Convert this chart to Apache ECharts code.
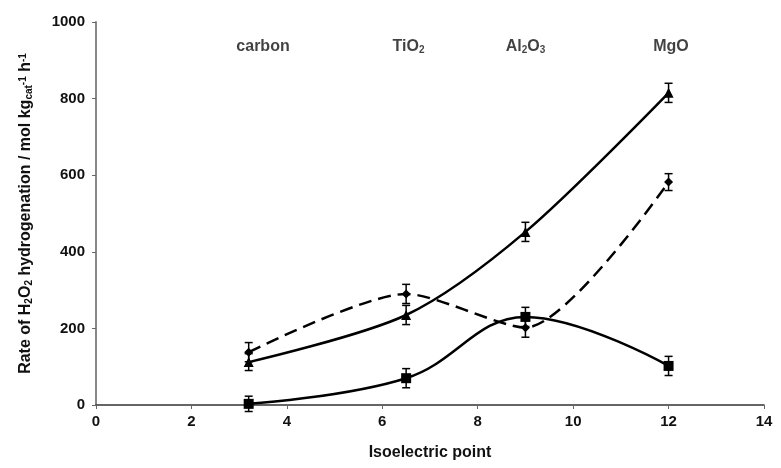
<!DOCTYPE html>
<html>
<head>
<meta charset="utf-8">
<script src="https://cdn.jsdelivr.net/npm/echarts@6/dist/echarts.min.js"></script>
<style>
html,body{margin:0;padding:0;background:#fff;}
#c{width:781px;height:468px;}
</style>
</head>
<body>
<div id="c"></div>
<script>
// ---- data ----
const isoPoint = [3.2, 6.5, 9, 12];
const triangleRate = [112, 235, 452, 815];
const triangleErr = [22, 25, 25, 25];
const diamondRate = [138, 290, 202, 582];
const diamondErr = [25, 25, 25, 22];
const squareRate = [3, 70, 230, 102];
const squareErr = [20, 25, 25, 25];
const supportLabels = ['carbon', 'TiO{sub|2}', 'Al{sub|2}O{sub|3}', 'MgO'];
const supportLabelX = [3.5, 6.55, 9.0, 12.05];
const supportLabelY = 935;
const xTicks = [0, 2, 4, 6, 8, 10, 12, 14];
const yTicks = [0, 200, 400, 600, 800, 1000];

const FONT = 'Liberation Sans, Arial, sans-serif';

function pts(ys) { return isoPoint.map((x, i) => [x, ys[i]]); }
function errData(ys, es) { return isoPoint.map((x, i) => [x, ys[i] - es[i], ys[i] + es[i]]); }

function errorSeries(ys, es) {
  return {
    type: 'custom',
    data: errData(ys, es),
    z: 3,
    silent: true,
    renderItem: function (params, api) {
      const x = api.value(0);
      const lo = api.coord([x, api.value(1)]);
      const hi = api.coord([x, api.value(2)]);
      const w = 4;
      const style = { stroke: '#000', lineWidth: 1.5 };
      return {
        type: 'group',
        children: [
          { type: 'line', shape: { x1: lo[0], y1: lo[1], x2: hi[0], y2: hi[1] }, style: style },
          { type: 'line', shape: { x1: lo[0] - w, y1: lo[1], x2: lo[0] + w, y2: lo[1] }, style: style },
          { type: 'line', shape: { x1: hi[0] - w, y1: hi[1], x2: hi[0] + w, y2: hi[1] }, style: style }
        ]
      };
    }
  };
}

const chart = echarts.init(document.getElementById('c'), null, { renderer: 'canvas' });
chart.setOption({
  animation: false,
  backgroundColor: '#fff',
  grid: { left: 96, right: 17, top: 22, bottom: 63, containLabel: false },
  xAxis: {
    type: 'value', min: xTicks[0], max: xTicks[xTicks.length - 1], interval: 2,
    name: 'Isoelectric point', nameLocation: 'middle', nameGap: 40,
    nameTextStyle: { fontFamily: FONT, fontWeight: 'bold', fontSize: 16, color: '#111' },
    axisLine: { lineStyle: { color: '#333', width: 1.5 } },
    axisTick: { show: true, length: 4, lineStyle: { color: '#666' } },
    axisLabel: { fontFamily: FONT, fontWeight: 'bold', fontSize: 15, color: '#111', margin: 9,
      formatter: v => String(v) },
    splitLine: { show: false }
  },
  yAxis: {
    type: 'value', min: yTicks[0], max: yTicks[yTicks.length - 1], interval: 200,
    name: 'Rate of H{sub|2}O{sub|2} hydrogenation / mol kg{sub|cat}{sup|-1} h{sup|-1}',
    nameLocation: 'middle', nameGap: 62, nameRotate: 90,
    nameTextStyle: {
      fontFamily: FONT, fontWeight: 'bold', fontSize: 16, color: '#111',
      rich: {
        sub: { fontFamily: FONT, fontWeight: 'bold', fontSize: 10, color: '#111', verticalAlign: 'bottom', lineHeight: 8 },
        sup: { fontFamily: FONT, fontWeight: 'bold', fontSize: 10, color: '#111', verticalAlign: 'top', lineHeight: 8 }
      }
    },
    axisLine: { show: true, lineStyle: { color: '#888', width: 2 } },
    axisTick: { show: true, length: 4, lineStyle: { color: '#666' } },
    axisLabel: { fontFamily: FONT, fontWeight: 'bold', fontSize: 15, color: '#111', margin: 11,
      formatter: v => String(v) },
    splitLine: { show: false }
  },
  series: [
    {
      type: 'line', data: pts(triangleRate), smooth: 0.3,
      symbol: 'triangle', symbolSize: 10,
      lineStyle: { color: '#000', width: 2.5 },
      itemStyle: { color: '#000' }, z: 4
    },
    {
      type: 'line', data: pts(diamondRate), smooth: 0.25,
      symbol: 'diamond', symbolSize: 9,
      lineStyle: { color: '#000', width: 2.5, type: [13, 7] },
      itemStyle: { color: '#000' }, z: 4
    },
    {
      type: 'line', data: pts(squareRate), smooth: 0.4,
      symbol: 'rect', symbolSize: 10,
      lineStyle: { color: '#000', width: 2.5 },
      itemStyle: { color: '#000' }, z: 4
    },
    errorSeries(triangleRate, triangleErr),
    errorSeries(diamondRate, diamondErr),
    errorSeries(squareRate, squareErr),
    {
      type: 'scatter', symbolSize: 0, silent: true,
      data: supportLabelX.map((x, i) => ({ value: [x, supportLabelY], name: supportLabels[i] })),
      label: {
        show: true, position: 'inside', formatter: p => p.name,
        fontFamily: FONT, fontWeight: 'bold', fontSize: 16, color: '#111',
        rich: {
          sub: { fontFamily: FONT, fontWeight: 'bold', fontSize: 10, color: '#111', verticalAlign: 'bottom', lineHeight: 8 }
        }
      }
    }
  ]
});
</script>
</body>
</html>
